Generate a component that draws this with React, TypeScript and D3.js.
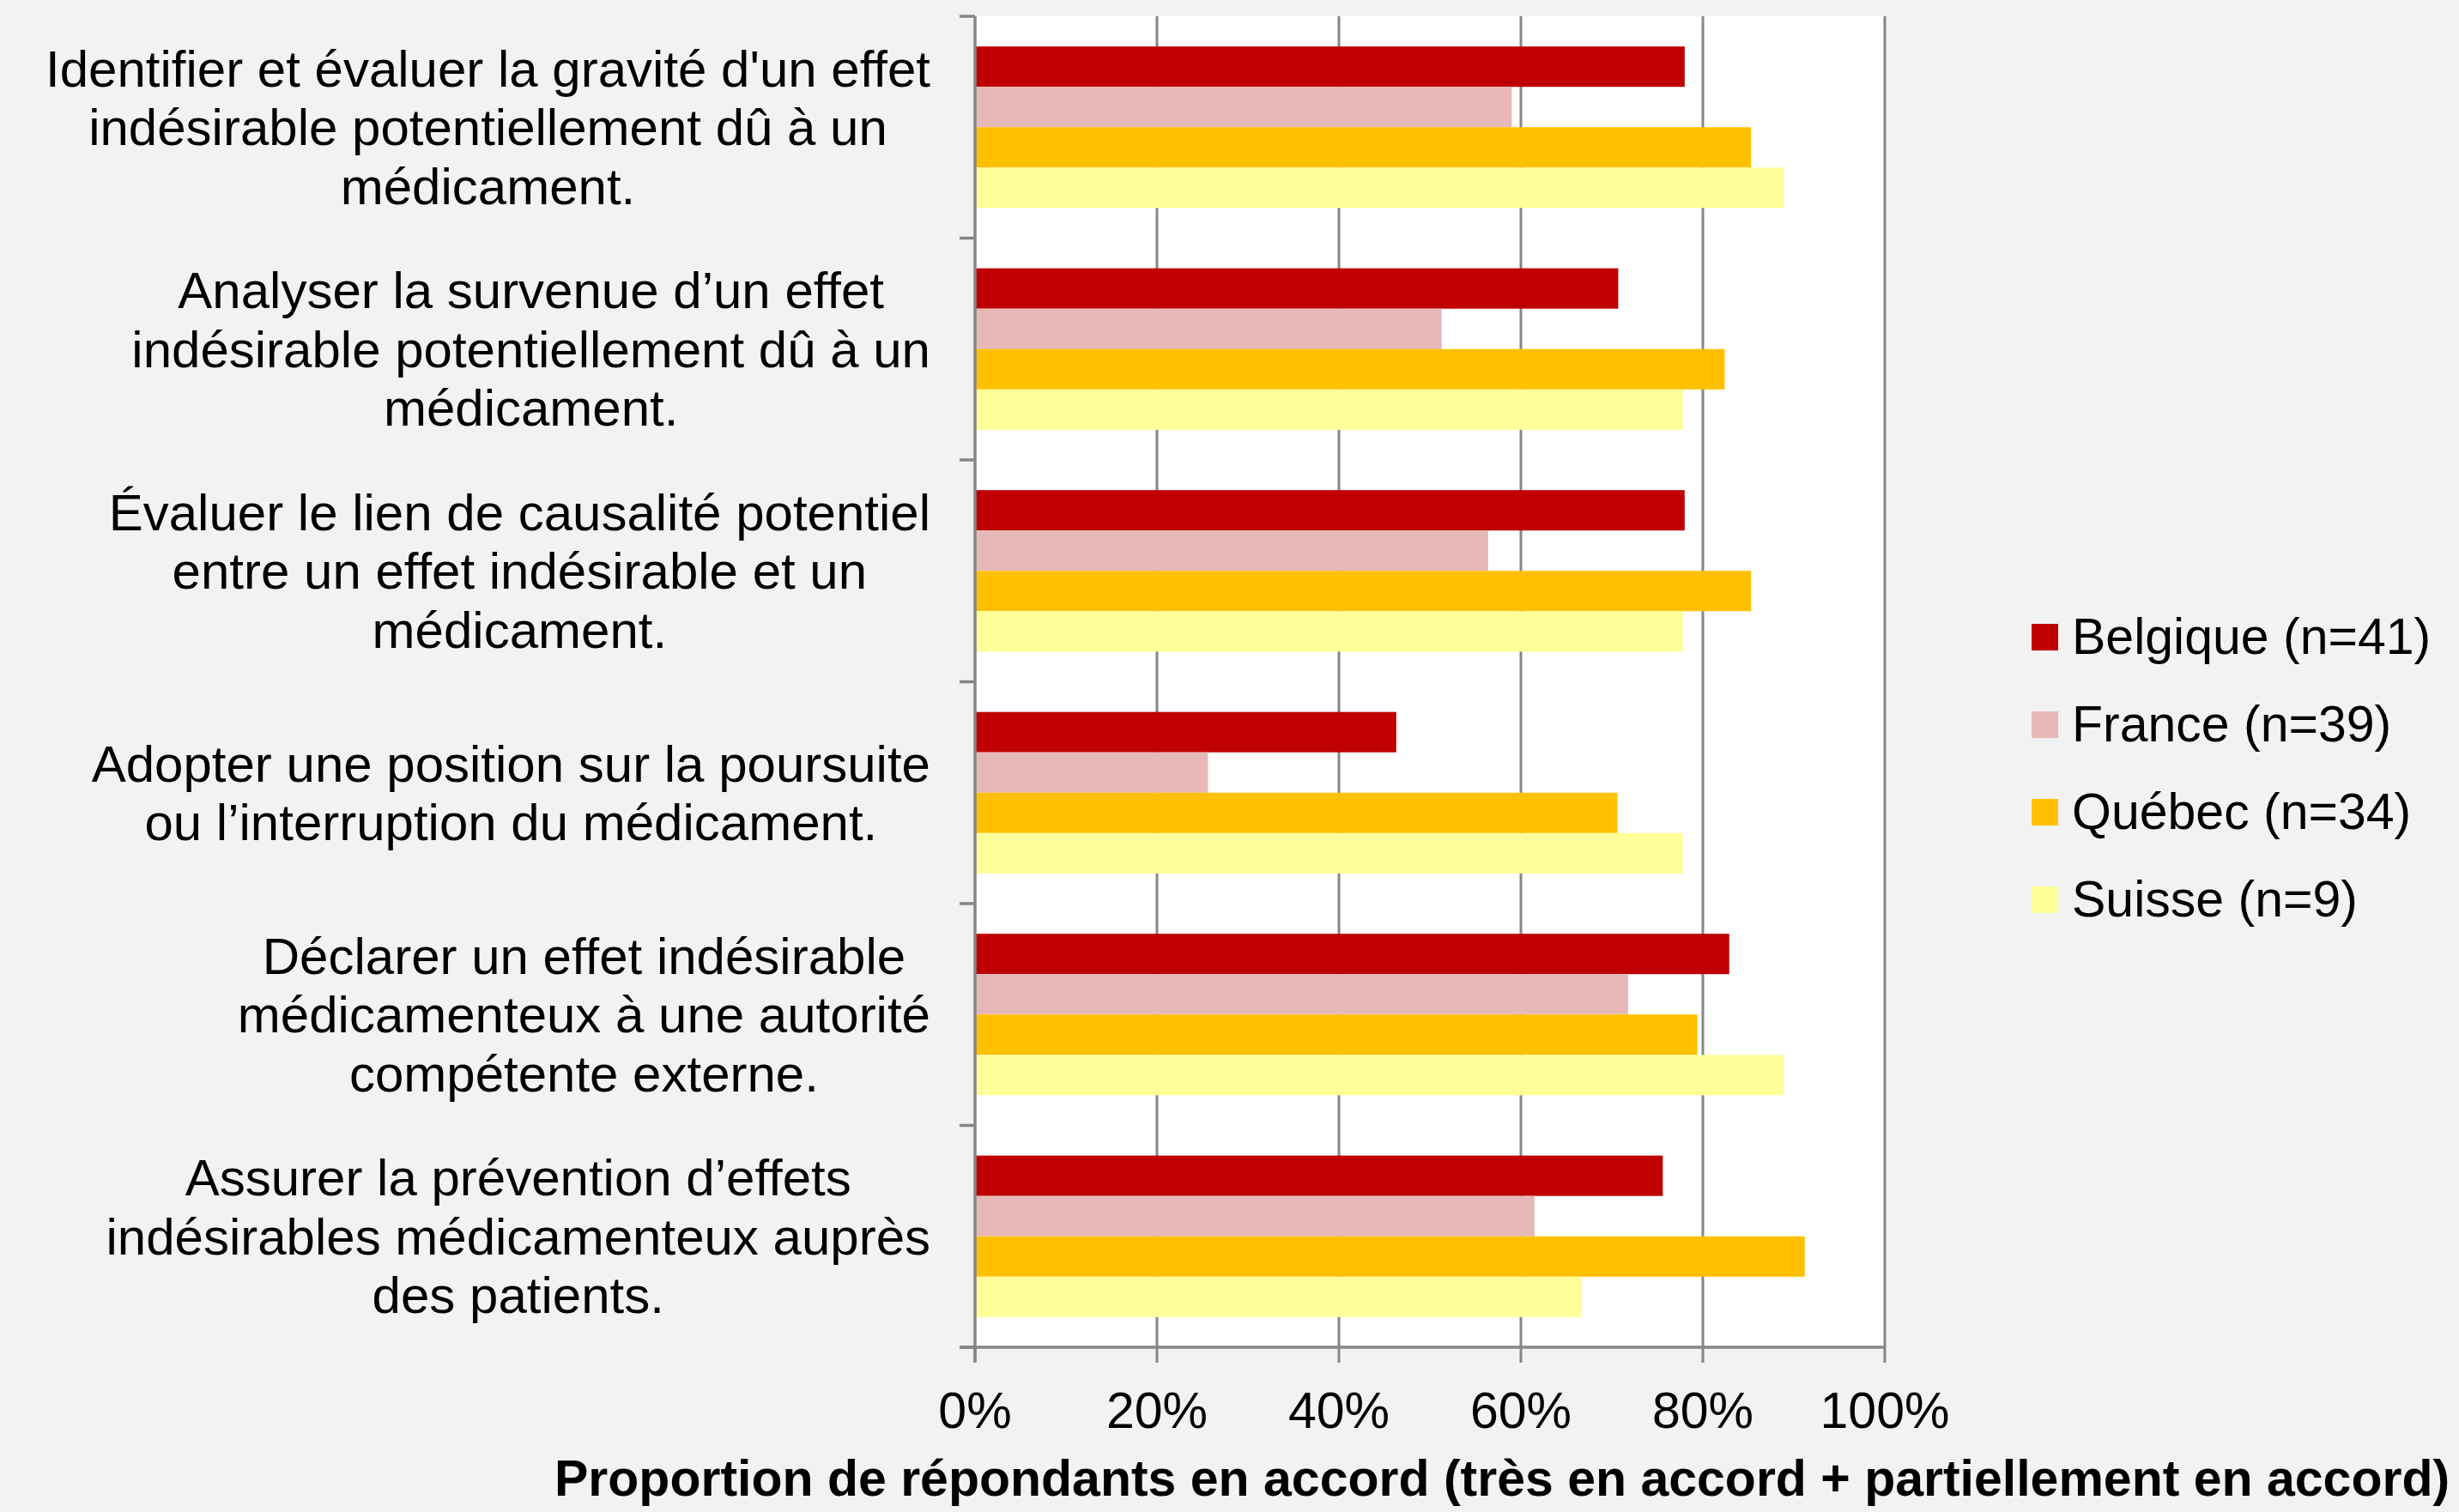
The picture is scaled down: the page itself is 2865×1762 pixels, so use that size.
import * as d3 from "d3";
import React, { useEffect, useRef } from "react";

// categories (each label split into its lines as shown)
const categoryLines: string[][] = [
  ["Identifier et évaluer la gravité d'un effet", "indésirable potentiellement dû à un", "médicament."],
  ["Analyser la survenue d’un effet", "indésirable potentiellement dû à un", "médicament."],
  ["Évaluer le lien de causalité potentiel", "entre un effet indésirable et un", "médicament."],
  ["Adopter une position sur la poursuite", "ou l’interruption du médicament."],
  ["Déclarer un effet indésirable", "médicamenteux à une autorité", "compétente externe."],
  ["Assurer la prévention d’effets", "indésirables médicamenteux auprès", "des patients."],
];

const seriesNames = ["Belgique (n=41)", "France (n=39)", "Québec (n=34)", "Suisse (n=9)"];
const seriesColors = ["#C00000", "#E6B9B8", "#FFC000", "#FFFF99"];

const belgique = [78.0, 70.7, 78.0, 46.3, 82.9, 75.6];
const france = [59.0, 51.3, 56.4, 25.6, 71.8, 61.5];
const quebec = [85.3, 82.4, 85.3, 70.6, 79.4, 91.2];
const suisse = [88.9, 77.8, 77.8, 77.8, 88.9, 66.7];

const xTicks = [0, 20, 40, 60, 80, 100];
const xTitle = "Proportion de répondants en accord (très en accord + partiellement en accord)";

const W = 2865;
const H = 1762;
const FONT = "'Liberation Sans', Arial, sans-serif";

const App = () => {
  const svgRef = useRef<SVGSVGElement>(null);

  useEffect(() => {
    const svg = d3.select(svgRef.current);
    svg.selectAll("*").remove();

    const margin = { top: 19, left: 1136, right: W - 2196, bottom: H - 1570 };
    const series = [belgique, france, quebec, suisse];
    const catIdx = categoryLines.map((_, i) => i);

    const x = d3.scaleLinear().domain([0, 100]).range([margin.left, W - margin.right]);
    const y = d3
      .scaleBand<number>()
      .domain(catIdx)
      .range([margin.top, H - margin.bottom])
      .paddingInner(0.272)
      .paddingOuter(0.136);
    const ySub = d3
      .scaleBand<number>()
      .domain(series.map((_, i) => i))
      .range([0, y.bandwidth()]);

    svg.append("rect").attr("width", W).attr("height", H).attr("fill", "#F2F2F2");
    svg
      .append("rect")
      .attr("x", x(0))
      .attr("y", margin.top)
      .attr("width", x(100) - x(0))
      .attr("height", H - margin.bottom - margin.top)
      .attr("fill", "#fff");

    const grey = "#868686";
    const bottom = H - margin.bottom;
    const step = y.step();
    const top = margin.top;

    // gridlines
    svg
      .append("g")
      .selectAll("line")
      .data(xTicks.slice(1))
      .join("line")
      .attr("x1", (d) => x(d))
      .attr("x2", (d) => x(d))
      .attr("y1", top)
      .attr("y2", bottom)
      .attr("stroke", grey)
      .attr("stroke-width", 3);

    // Bars
    const groups = svg
      .append("g")
      .selectAll("g")
      .data(catIdx)
      .join("g")
      .attr("transform", (i) => `translate(0,${y(i)})`);

    groups
      .selectAll("rect")
      .data((i) => series.map((s, k) => ({ k, v: s[i] })))
      .join("rect")
      .attr("x", x(0))
      .attr("y", (d) => ySub(d.k)!)
      .attr("width", (d) => x(d.v) - x(0))
      .attr("height", ySub.bandwidth())
      .attr("fill", (d) => seriesColors[d.k]);

    // axes
    svg
      .append("line")
      .attr("x1", x(0))
      .attr("x2", x(0))
      .attr("y1", top)
      .attr("y2", bottom + 18)
      .attr("stroke", grey)
      .attr("stroke-width", 3.5);
    svg
      .append("line")
      .attr("x1", x(0) - 18)
      .attr("x2", x(100))
      .attr("y1", bottom)
      .attr("y2", bottom)
      .attr("stroke", grey)
      .attr("stroke-width", 3.5);

    // category ticks
    svg
      .append("g")
      .selectAll("line")
      .data(d3.range(categoryLines.length + 1))
      .join("line")
      .attr("x1", x(0) - 18)
      .attr("x2", x(0))
      .attr("y1", (k) => top + k * step)
      .attr("y2", (k) => top + k * step)
      .attr("stroke", grey)
      .attr("stroke-width", 3.5);

    // x ticks
    svg
      .append("g")
      .selectAll("line")
      .data(xTicks)
      .join("line")
      .attr("x1", (d) => x(d))
      .attr("x2", (d) => x(d))
      .attr("y1", bottom)
      .attr("y2", bottom + 18)
      .attr("stroke", grey)
      .attr("stroke-width", 3);

    svg
      .append("g")
      .selectAll("text")
      .data(xTicks)
      .join("text")
      .attr("x", (d) => x(d))
      .attr("y", 1664)
      .attr("text-anchor", "middle")
      .attr("font-family", FONT)
      .attr("font-size", 59)
      .text((d) => `${d}%`);

    // category labels: block right-aligned, lines centred inside it
    const labelRight = 1084;
    const lineH = 68.5;
    catIdx.forEach((i) => {
      const lines = categoryLines[i];
      const cy = top + (i + 0.5) * step;
      const g = svg.append("g");
      const texts = g
        .selectAll("text")
        .data(lines)
        .join("text")
        .attr("font-family", FONT)
        .attr("font-size", 60)
        .attr("text-anchor", "middle")
        .attr("y", (_, j) => cy + (j - (lines.length - 1) / 2) * lineH + 21)
        .text((d) => d);
      let maxW = 0;
      texts.each(function () {
        maxW = Math.max(maxW, (this as SVGTextElement).getComputedTextLength());
      });
      texts.attr("x", labelRight - maxW / 2);
    });

    // x title
    svg
      .append("text")
      .attr("x", 646)
      .attr("y", 1743)
      .attr("font-family", FONT)
      .attr("font-size", 59)
      .attr("font-weight", "bold")
      .text(xTitle);

    // Legend
    const legend = svg
      .append("g")
      .selectAll("g")
      .data(seriesNames)
      .join("g")
      .attr("transform", (_, i) => `translate(2367,${727 + i * 102})`);
    legend
      .append("rect")
      .attr("width", 31)
      .attr("height", 31)
      .attr("fill", (_, i) => seriesColors[i]);
    legend
      .append("text")
      .attr("x", 47)
      .attr("y", 35)
      .attr("font-family", FONT)
      .attr("font-size", 59)
      .text((d) => d);
  }, []);

  return (
    <svg
      ref={svgRef}
      width={W}
      height={H}
      style={{ position: "absolute", left: 0, top: 0, display: "block" }}
    />
  );
};

export default App;
